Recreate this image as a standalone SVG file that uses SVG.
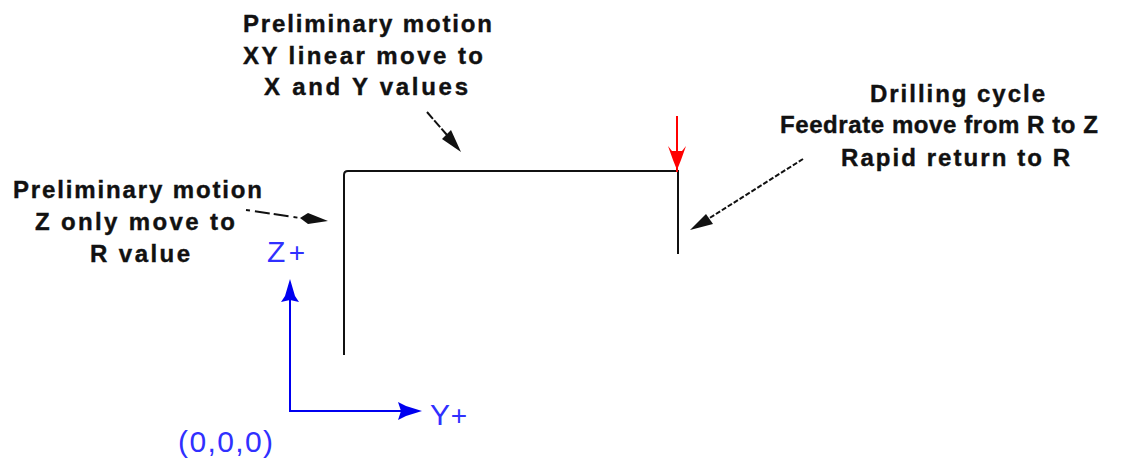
<svg xmlns="http://www.w3.org/2000/svg" width="1143" height="459" viewBox="0 0 1143 459">
<style>
.t{font-family:"Liberation Sans",Arial,sans-serif;font-size:24px;font-weight:bold;fill:#111;stroke:#111;stroke-width:.4}
.b{font-family:"Liberation Sans",Arial,sans-serif;font-size:30px;fill:#3030ff}
.s{font-size:28px}
.k{stroke:#111;stroke-width:2;fill:none}
.u{stroke:#0000f0;stroke-width:2;fill:none}
.ah{fill:#111}
.bh{fill:#0000f0}
</style>
<rect width="1143" height="459" fill="#fff"/>
<g id="connectors">
<path class="k" d="M344 355V175Q344 171 348 171H678V254"/>
<path class="k" d="M427 112L447 135" stroke-dasharray="9 2"/>
<path class="ah" d="M461 152L442 139L451 130Z"/>
<path class="k" d="M246 210L300 218" stroke-dasharray="4 5 15 4 15 5"/>
<path class="ah" d="M300 218L308 213L328 221L308 224Z"/>
<path class="k" d="M803 159L708 219" stroke-width="1.6" stroke-dasharray="5 2"/>
<path class="ah" d="M690 230L706 214L713 224Z"/>
<path d="M677 116V172" stroke="#ff0000" stroke-width="2"/>
<path d="M668 146L672 151H682L686 146L681 160L677 170L673 160Z" fill="#ff0000"/>
<path class="u" d="M290 295V411H412"/>
<path class="bh" d="M281 302L285 296L290 279L295 296L299 302L290 300Z"/>
<path class="bh" d="M398 402L406 406L422 411L406 416L398 420L401 411Z"/>
</g>
<g id="label-xy"><text class="t" x="243" y="32" textLength="249">Preliminary motion</text><text class="t" x="243" y="64" textLength="240">XY linear move to</text><text class="t" x="264" y="95" textLength="204">X and Y values</text></g>
<g id="label-z"><text class="t" x="13" y="198" textLength="249">Preliminary motion</text><text class="t" x="35" y="230" textLength="200">Z only move to</text><text class="t" x="90" y="262" textLength="100">R value</text></g>
<g id="label-drill"><text class="t" x="870" y="102" textLength="175">Drilling cycle</text><text class="t" x="780" y="133" textLength="318">Feedrate move from R to Z</text><text class="t" x="841" y="166" textLength="229">Rapid return to R</text></g>
<g id="axis-z"><text class="b" x="267" y="262" textLength="38">Z<tspan class="s">+</tspan></text></g>
<g id="axis-y"><text class="b" x="430" y="425" textLength="37">Y<tspan class="s">+</tspan></text></g>
<g id="origin"><text class="b" x="178" y="452" textLength="95">(0,0,0)</text></g>
</svg>
